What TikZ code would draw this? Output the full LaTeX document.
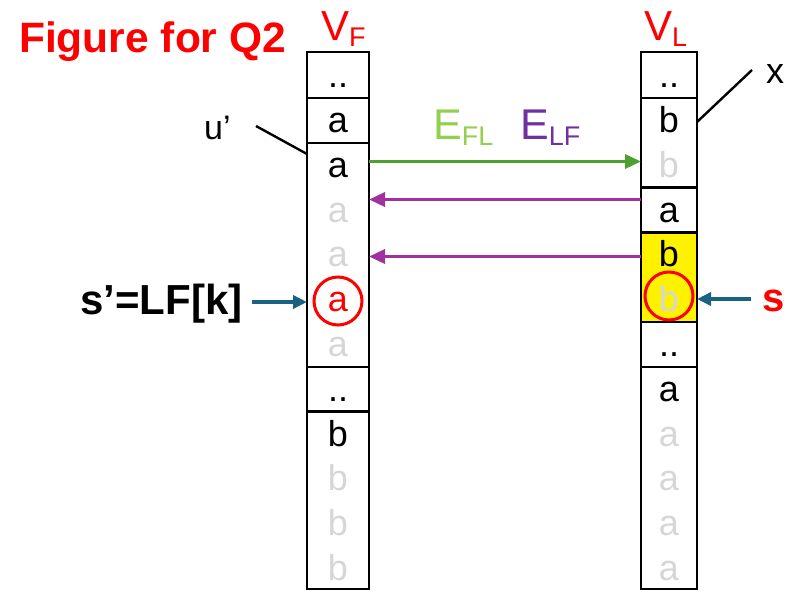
\documentclass[tikz,border=0pt]{standalone}
\usepackage{fontspec}
\setmainfont{Liberation Sans}
\usetikzlibrary{arrows.meta}
\definecolor{cgreen}{RGB}{78,160,48}
\definecolor{lgreen}{RGB}{146,208,80}
\definecolor{cpurple}{RGB}{160,50,160}
\definecolor{lpurple}{RGB}{112,48,160}
\definecolor{cblue}{RGB}{27,98,128}
\definecolor{cgray}{RGB}{214,214,214}
\newcommand\mysub[1]{\raisebox{-6.5pt}{\fontsize{27}{27}\selectfont #1}}
\begin{document}
\begin{tikzpicture}[x=1pt,y=-1pt,
  grp/.style={draw=black,line width=2.6pt,inner sep=0pt,outer sep=0pt},
  fgrp/.style={grp,minimum width=62pt},
  lgrp/.style={grp,minimum width=56pt},
  cell/.style={anchor=base,inner sep=0pt,font=\fontsize{36}{40}\selectfont},
  ghost/.style={cell,text=cgray},
  lbl/.style={anchor=base west,inner sep=0pt},
  big/.style={font=\fontsize{42}{46}\selectfont},
  arr/.style={line width=3.5pt,-{Triangle[length=16pt,width=14pt]}},
  barr/.style={line width=3.5pt,draw=cblue,-{Triangle[length=14pt,width=13pt]}},
  ring/.style={draw=red,line width=3pt,circle,minimum size=48pt,inner sep=0pt},
  thin/.style={line width=2.4pt}]
\useasboundingbox (0,0) rectangle (787,590);

% title
\node[lbl,text=red,font=\bfseries\fontsize{42.5}{46}\selectfont] (title) at (19,52) {Figure for Q2};

% column headers
\node[lbl,text=red,big] (vf) at (321,40) {V\mysub{F}};
\node[lbl,text=red,big] (vl) at (644,40) {V\mysub{L}};

% V_F groups
\node[fgrp,minimum height=46pt]    (F0) at (338,75) {};
\node[fgrp,minimum height=44.8pt]  (F1) at (338,120.4) {};
\node[fgrp,minimum height=224pt]   (F2) at (338,254.8) {};
\node[fgrp,minimum height=44.8pt]  (F3) at (338,389.2) {};
\node[fgrp,minimum height=177.4pt] (F4) at (338,500.3) {};

% V_L groups
\node[lgrp,minimum height=46pt]    (L0) at (669,75) {};
\node[lgrp,minimum height=89.6pt]  (L1) at (669,142.8) {};
\node[lgrp,minimum height=44.8pt]  (L2) at (669,210) {};
\node[lgrp,minimum height=89.6pt,fill=yellow] (L3) at (669,277.2) {};
\node[lgrp,minimum height=44.8pt]  (L4) at (669,344.4) {};
\node[lgrp,minimum height=222.2pt] (L5) at (669,477.9) {};

% V_F cells
\node[cell]  (f0)  at (338,87)    {..};
\node[cell]  (f1)  at (338,132.5) {a};
\node[cell]  (f2)  at (338,177.3) {a};
\node[ghost] (f3)  at (338,222.1) {a};
\node[ghost] (f4)  at (338,266.9) {a};
\node[cell,text=red] (f5) at (338,311.7) {a};
\node[ghost] (f6)  at (338,356.5) {a};
\node[cell]  (f7)  at (338,401.3) {..};
\node[cell]  (f8)  at (338,446.1) {b};
\node[ghost] (f9)  at (338,490.9) {b};
\node[ghost] (f10) at (338,535.7) {b};
\node[ghost] (f11) at (338,580.5) {b};

% V_L cells
\node[cell]  (l0)  at (669,87)    {..};
\node[cell]  (l1)  at (669,132.5) {b};
\node[ghost] (l2)  at (669,177.3) {b};
\node[cell]  (l3)  at (669,222.1) {a};
\node[cell]  (l4)  at (669,266.9) {b};
\node[ghost] (l5)  at (669,311.7) {b};
\node[cell]  (l6)  at (669,356.5) {..};
\node[cell]  (l7)  at (669,401.3) {a};
\node[ghost] (l8)  at (669,446.1) {a};
\node[ghost] (l9)  at (669,490.9) {a};
\node[ghost] (l10) at (669,535.7) {a};
\node[ghost] (l11) at (669,580.5) {a};

% circles
\node[ring] (cF) at (338,301) {};
\node[ring] (cL) at (669,296) {};

% edge labels
\node[lbl,text=lgreen,font=\fontsize{43}{46}\selectfont] (efl) at (433,139) {E\mysub{FL}};
\node[lbl,text=lpurple,font=\fontsize{43}{46}\selectfont] (elf) at (520,139) {E\mysub{LF}};

% arrows between columns
\draw[arr,draw=cgreen,fill=cgreen] (F2.east |- 0,161.5) -- (L1.west |- 0,161.5);
\draw[arr,draw=cpurple,fill=cpurple] (L2.west |- 0,199.5) -- (F2.east |- 0,199.5);
\draw[arr,draw=cpurple,fill=cpurple] (L3.west |- 0,256.5) -- (F2.east |- 0,256.5);

% s' label
\node[lbl,font=\bfseries\fontsize{42}{46}\selectfont] (sp) at (80,314) {s’=LF[k]};
\draw[barr,shorten <=9pt] (sp.east |- 0,302) -- (F2.west |- 0,302);

% s label
\node[lbl,text=red,font=\bfseries\fontsize{40}{44}\selectfont] (sr) at (762,311) {s};
\draw[barr,shorten <=11pt] (sr.west |- 0,299) -- (L3.east |- 0,299);

% u' label
\node[lbl,font=\fontsize{34}{38}\selectfont] (up) at (204,139) {u’};
\coordinate (u1) at (256,126);
\draw[thin] (u1) -- (F2.west |- 0,154);

% x label
\node[lbl,font=\fontsize{36}{40}\selectfont] (xl) at (766,83) {x};
\coordinate (x1) at (752,70);
\draw[thin] (x1) -- (L1.east |- 0,122);
\end{tikzpicture}
\end{document}
